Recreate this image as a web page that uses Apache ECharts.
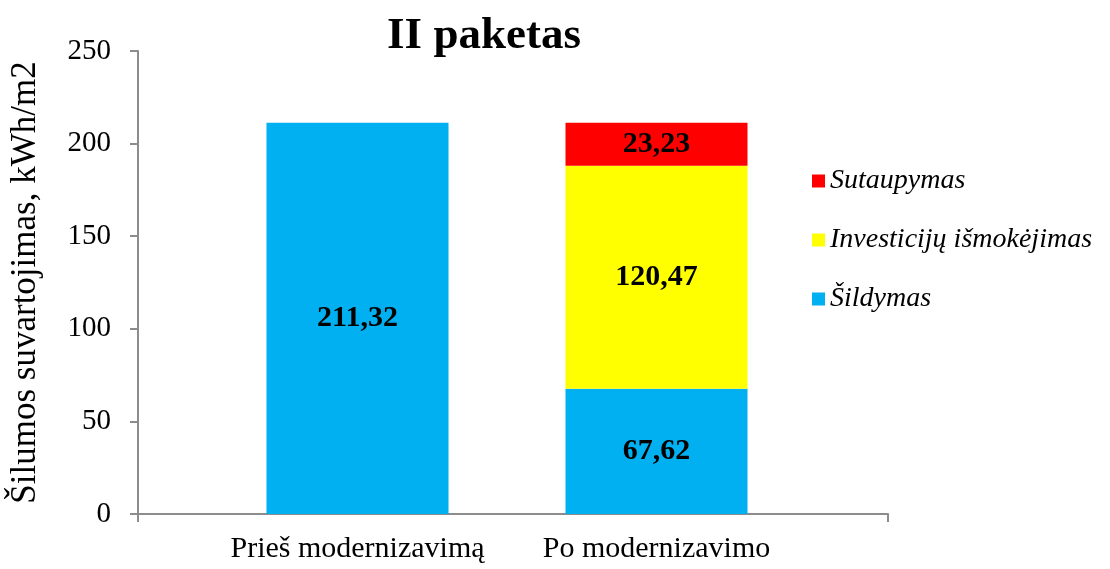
<!DOCTYPE html>
<html>
<head>
<meta charset="utf-8">
<script src="https://cdn.jsdelivr.net/npm/echarts@6/dist/echarts.min.js"></script>
<style>
  html, body { margin: 0; padding: 0; background: #fff; }
  #chart { width: 1110px; height: 569px; }
</style>
</head>
<body>
<div id="chart"></div>
<script>
var categories = ["Prieš modernizavimą", "Po modernizavimo"];
var sildymas = [211.32, 67.62];
var investicijos = [null, 120.47];
var sutaupymas = [null, 23.23];
var yTicks = { min: 0, max: 250, interval: 50 };

var serif = "Liberation Serif";
var axisGray = "#8c8c8c";

function fmt(p) {
  return p.value == null ? "" : p.value.toFixed(2).replace(".", ",");
}

var valueLabel = {
  show: true,
  position: "inside",
  formatter: fmt,
  color: "#000",
  fontFamily: serif,
  fontWeight: "bold",
  fontSize: 30
};

var chart = echarts.init(document.getElementById("chart"));
chart.setOption({
  animation: false,
  title: {
    text: "II paketas",
    left: 479,
    textAlign: "center",
    top: 9,
    textStyle: { fontFamily: serif, fontWeight: "bold", fontSize: 45, color: "#000" }
  },
  legend: {
    orient: "vertical",
    left: 807,
    top: 162,
    itemGap: 31,
    itemWidth: 13,
    itemHeight: 13,
    icon: "rect",
    data: ["Sutaupymas", "Investicijų išmokėjimas", "Šildymas"],
    textStyle: { fontFamily: serif, fontStyle: "italic", fontSize: 28, color: "#000" }
  },
  grid: [
    { left: 138, right: 222, top: 51, bottom: 55, outerBoundsMode: "none" },
    { left: 208, right: 304, top: 51, bottom: 55, outerBoundsMode: "none" }
  ],
  xAxis: [
    {
      gridIndex: 0,
      type: "category",
      data: [""],
      axisLine: { lineStyle: { color: axisGray, width: 2 } },
      axisTick: { show: true, length: 8, lineStyle: { color: axisGray, width: 2 } },
      axisLabel: { show: false }
    },
    {
      gridIndex: 1,
      type: "category",
      data: categories,
      axisLine: { show: false },
      axisTick: { show: false },
      axisLabel: { interval: 0, hideOverlap: false, fontFamily: serif, fontSize: 30, color: "#000", margin: 20 }
    }
  ],
  yAxis: [
    {
      gridIndex: 0,
      type: "value",
      min: yTicks.min,
      max: yTicks.max,
      interval: yTicks.interval,
      name: "Šilumos suvartojimas, kWh/m2",
      nameLocation: "middle",
      nameRotate: 90,
      nameGap: 95,
      nameTextStyle: { fontFamily: serif, fontSize: 35, color: "#000" },
      splitLine: { show: false },
      axisLine: { show: true, lineStyle: { color: axisGray, width: 2 } },
      axisTick: { show: true, length: 8, lineStyle: { color: axisGray, width: 2 } },
      axisLabel: { fontFamily: serif, fontSize: 29, color: "#000", margin: 27 }
    },
    {
      gridIndex: 1,
      type: "value",
      min: yTicks.min,
      max: yTicks.max,
      show: false,
      splitLine: { show: false }
    }
  ],
  series: [
    {
      name: "Šildymas",
      type: "bar",
      stack: "total",
      xAxisIndex: 1,
      yAxisIndex: 1,
      barWidth: 182,
      data: sildymas,
      itemStyle: { color: "#00B0F0" },
      label: valueLabel
    },
    {
      name: "Investicijų išmokėjimas",
      type: "bar",
      stack: "total",
      xAxisIndex: 1,
      yAxisIndex: 1,
      barWidth: 182,
      data: investicijos,
      itemStyle: { color: "#FFFF00" },
      label: valueLabel
    },
    {
      name: "Sutaupymas",
      type: "bar",
      stack: "total",
      xAxisIndex: 1,
      yAxisIndex: 1,
      barWidth: 182,
      data: sutaupymas,
      itemStyle: { color: "#FF0000" },
      label: valueLabel
    }
  ]
});
</script>
</body>
</html>
